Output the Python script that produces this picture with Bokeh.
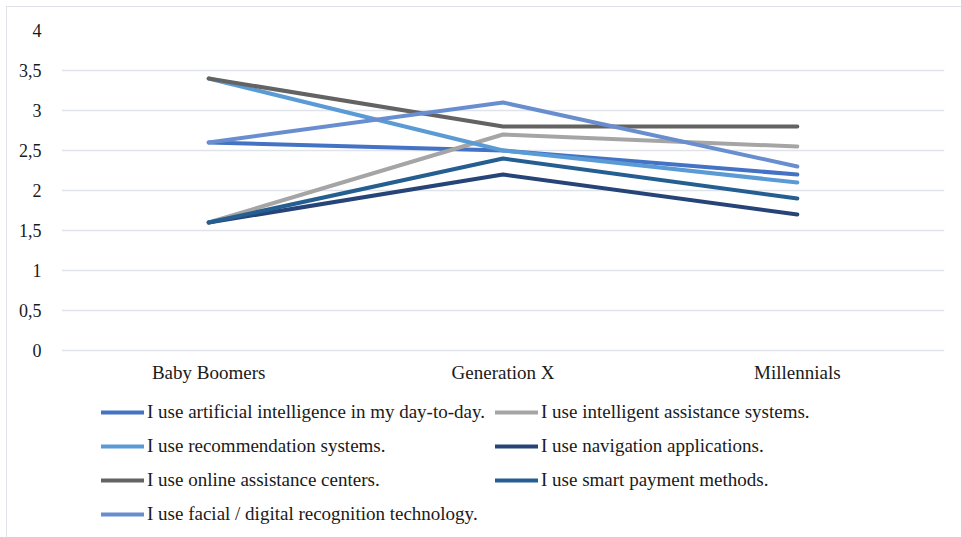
from bokeh.plotting import figure
from bokeh.models import FactorRange, Range1d, Legend, LegendItem, FixedTicker, CustomJSTickFormatter
from bokeh.core.properties import value
from bokeh.embed import file_html
from bokeh.resources import INLINE

categories = ["Baby Boomers", "Generation X", "Millennials"]
y_ticks = [0, 0.5, 1, 1.5, 2, 2.5, 3, 3.5, 4]

series_names = [
    "I use artificial intelligence in my day-to-day.",
    "I use intelligent assistance systems.",
    "I use recommendation systems.",
    "I use navigation applications.",
    "I use online assistance centers.",
    "I use smart payment methods.",
    "I use facial / digital recognition technology.",
]

ai_day_to_day = [2.6, 2.5, 2.2]
intelligent_assistance = [1.6, 2.7, 2.55]
recommendation = [3.4, 2.5, 2.1]
navigation = [1.6, 2.2, 1.7]
online_assistance = [3.4, 2.8, 2.8]
smart_payment = [1.6, 2.4, 1.9]
facial_recognition = [2.6, 3.1, 2.3]

series_values = [ai_day_to_day, intelligent_assistance, recommendation, navigation,
                 online_assistance, smart_payment, facial_recognition]
colors = ["#4472C4", "#A5A5A5", "#5B9BD5", "#264478", "#636363", "#255E91", "#698ED0"]

FONT = "'Liberation Serif', 'Times New Roman', serif"

# frame: value 4 -> y=29, value 0 -> y=349 (80 px per unit), frame extends to bottom for legend
p = figure(
    x_range=FactorRange(*categories, range_padding=0),
    y_range=Range1d(-2.325, 4),
    width=955, height=531,
    output_backend="svg", toolbar_location=None,
    x_axis_location=None,
    min_border_left=54, min_border_right=18, min_border_top=23, min_border_bottom=2,
)
p.margin = (6, 0, 0, 6)
p.styles = {"border-top": "1px solid #dfe3e8", "border-left": "1px solid #dfe3e8"}
p.outline_line_color = None
p.background_fill_color = "white"
p.border_fill_color = "white"

p.xgrid.grid_line_color = None
p.yaxis.ticker = FixedTicker(ticks=y_ticks)
p.ygrid.ticker = FixedTicker(ticks=y_ticks)
p.ygrid.grid_line_color = "#e0e4ea"
p.ygrid.grid_line_width = 1.5
p.yaxis.formatter = CustomJSTickFormatter(code="return tick.toString().replace('.', ',');")
p.yaxis.axis_line_color = None
p.yaxis.major_tick_line_color = None
p.yaxis.minor_tick_line_color = None
p.yaxis.major_label_text_font = FONT
p.yaxis.major_label_text_color = "#1a1a1a"
p.yaxis.major_label_text_font_size = "18px"
p.yaxis.major_label_standoff = 14

# category labels placed under the zero line through the scales
p.text(x=categories, y=[y_ticks[0]] * len(categories), text=categories,
       text_font=value(FONT), text_font_size="19px", text_color="#1a1a1a",
       text_align="center", text_baseline="top", y_offset=11)

renderers = []
for name, vals, col in zip(series_names, series_values, colors):
    r = p.line(x=categories, y=vals, line_color=col, line_width=4,
               line_cap="round", line_join="round")
    renderers.append(r)

# legend fills column by column: reorder so it reads row by row like the reference
legend_order = [0, 2, 4, 6, 1, 3, 5]
items = [LegendItem(label=series_names[i], renderers=[renderers[i]]) for i in legend_order]
legend = Legend(
    items=items, ncols=2, location=(40, 10),
    label_text_font=FONT, label_text_font_size="19px", label_text_color="#1a1a1a",
    glyph_width=43, glyph_height=24, label_height=24, label_standoff=3,
    spacing=10, padding=0, margin=0,
    border_line_alpha=0, background_fill_alpha=0,
)
p.add_layout(legend, "center")

open("out.html", "w").write(file_html(p, INLINE))
